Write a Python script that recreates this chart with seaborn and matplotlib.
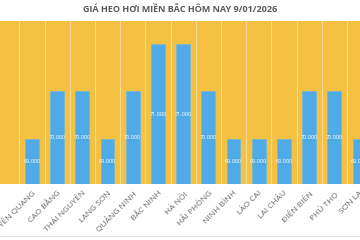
import numpy as np
import pandas as pd
import matplotlib
matplotlib.use("Agg")
import matplotlib.pyplot as plt
import seaborn as sns

provinces = ["TUYÊN QUANG", "CAO BẰNG", "THÁI NGUYÊN", "LẠNG SƠN", "QUẢNG NINH",
             "BẮC NINH", "HÀ NỘI", "HẢI PHÒNG", "NINH BÌNH", "LÀO CAI",
             "LAI CHÂU", "ĐIỆN BIÊN", "PHÚ THỌ", "SƠN LA"]
prices = [69000, 70000, 70000, 69000, 70000, 71000, 71000, 70000,
          69000, 69000, 69000, 70000, 70000, 69000]
title = "GIÁ HEO HƠI MIỀN BẮC HÔM NAY 9/01/2026"

df = pd.DataFrame({"province": provinces, "price": prices})

sns.set_theme(style="white")
plt.rcParams["font.family"] = ["Open Sans", "DejaVu Sans"]

yellow = "#F4C143"
blue = "#4EABE8"
gray = "#595959"

fig = plt.figure(figsize=(3.6, 2.4), dpi=100)
ax = fig.add_axes([0, 0.233, 1, 0.679])
ax.set_facecolor(yellow)

sns.barplot(data=df, x="province", y="price", color=blue, width=0.55,
            saturation=1, edgecolor="#6FB8E0", linewidth=0.5, ax=ax, zorder=3)

ymin, ymax = 68050, 71480
ax.set_ylim(ymin, ymax)
ax.set_xlim(-1.27, 13.02)

# vertical grid lines between categories
for b in np.arange(-0.5, len(provinces), 1.0):
    ax.axvline(b, color="#F8DB92", lw=0.8, zorder=1)

for i, v in enumerate(prices):
    ax.text(i, (ymin + v) / 2, f"{v:,}".replace(",", "."), color="white",
            ha="center", va="center", fontsize=4, zorder=4)

ax.set_xticks(range(len(provinces)))
ax.set_xticklabels(provinces, rotation=45, ha="right", rotation_mode="anchor",
                   fontsize=6, color="#666666")
ax.tick_params(axis="x", length=0, pad=4)
ax.set_yticks([])
ax.set_xlabel("")
ax.set_ylabel("")
for s in ax.spines.values():
    s.set_visible(False)

fig.text(0.5, 0.962, title, ha="center", va="center", fontsize=6.5,
         fontweight="bold", color=gray)

# faint spreadsheet line at the bottom
fig.add_artist(plt.Line2D([0, 1], [0.017, 0.017], color="#E3E3E3", lw=0.8))

fig.savefig("out.png", dpi=100)
